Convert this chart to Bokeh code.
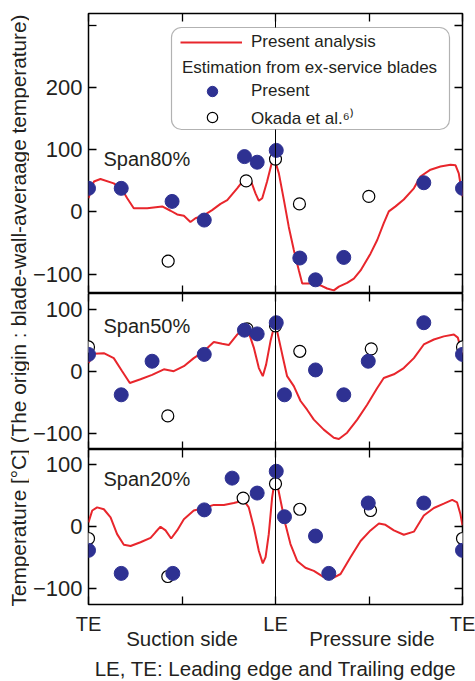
import math
from bokeh.plotting import figure
from bokeh.models import (Range1d, FixedTicker, LinearAxis, Span, Label,
                          BoxAnnotation, Legend, LegendItem)
from bokeh.layouts import row, column
from bokeh.core.properties import value
from bokeh.embed import file_html
from bokeh.resources import INLINE

FONT = "Liberation Sans"
RED = "#e8262c"
BLUE = "#2e3192"
INK = "#231f20"

# ---------------- data (x: -1 = TE suction side, 0 = LE, 1 = TE pressure side) ----------
# Span 80%
s80_line_x = [-1.000, -0.971, -0.936, -0.865, -0.825, -0.793, -0.758, -0.686, -0.606, -0.561,
              -0.526, -0.490, -0.455, -0.428, -0.381, -0.339, -0.294, -0.258, -0.205, -0.169,
              -0.134, -0.107, -0.089, -0.071, -0.045, -0.018, -0.005, 0.018, 0.045, 0.071,
              0.098, 0.125, 0.143, 0.187, 0.241, 0.276, 0.312, 0.339, 0.383, 0.419,
              0.455, 0.508, 0.544, 0.579, 0.606, 0.642, 0.686, 0.740, 0.775, 0.829,
              0.882, 0.936, 0.963, 0.980, 1.000]
s80_line_t = [22, 49, 53, 46, 38, 22, 6, 6, 9, 2,
              -4, -6, -16, -10, -5, 3, 13, 19, 38, 52,
              52, 30, 18, 22, 49, 81, 85, 62, 19, -24,
              -61, -94, -115, -115, -118, -123, -126, -120, -114, -107,
              -94, -67, -45, -18, 1, 9, 20, 38, 57, 68,
              73, 76, 75, 62, 25]
s80_present_x = [-1.0, -0.825, -0.553, -0.381, -0.166, -0.098, 0.004, 0.130, 0.214, 0.365, 0.793, 1.0]
s80_present_t = [38, 38, 17, -13, 89, 80, 99, -74, -109, -73, 47, 38]
s80_okada_x = [-0.574, -0.157, 0.0, 0.128, 0.499]
s80_okada_t = [-79, 50, 85, 13, 25]

# Span 50%
s50_line_x = [-1.000, -0.971, -0.918, -0.865, -0.820, -0.779, -0.722, -0.660, -0.597, -0.544,
              -0.490, -0.437, -0.383, -0.330, -0.285, -0.250, -0.205, -0.169, -0.143, -0.116,
              -0.089, -0.068, -0.050, -0.027, -0.009, 0.009, 0.036, 0.062, 0.098, 0.134,
              0.169, 0.205, 0.258, 0.312, 0.339, 0.383, 0.437, 0.490, 0.544, 0.579,
              0.633, 0.686, 0.740, 0.793, 0.847, 0.900, 0.954, 0.975, 1.000]
s50_line_t = [13, 28, 29, 21, 0, -19, -13, -6, 3, 0,
              8, 21, 32, 47, 44, 42, 59, 67, 62, 38,
              5, -8, 11, 48, 70, 64, 27, -8, -24, -48,
              -62, -78, -94, -107, -109, -99, -78, -54, -27, -11,
              -5, 5, 21, 43, 51, 56, 59, 54, 27]
s50_present_x = [-1.0, -0.825, -0.660, -0.381, -0.166, -0.098, 0.004, 0.048, 0.214, 0.365, 0.496, 0.793, 1.0]
s50_present_t = [27, -38, 16, 27, 66, 60, 78, -38, 2, -38, 16, 78, 27]
s50_okada_x = [-1.0, -0.576, -0.152, 0.0, 0.130, 0.512, 1.0]
s50_okada_t = [39, -72, 68, 73, 32, 36, 39]

# Span 20%
s20_line_x = [-1.000, -0.980, -0.954, -0.918, -0.882, -0.847, -0.811, -0.775, -0.722, -0.668,
              -0.642, -0.615, -0.588, -0.558, -0.526, -0.490, -0.437, -0.383, -0.330, -0.276,
              -0.223, -0.169, -0.143, -0.116, -0.089, -0.068, -0.053, -0.036, -0.018, -0.005,
              0.009, 0.027, 0.053, 0.080, 0.116, 0.160, 0.205, 0.258, 0.303, 0.348,
              0.401, 0.455, 0.508, 0.553, 0.588, 0.633, 0.686, 0.740, 0.793, 0.847,
              0.900, 0.945, 0.971, 0.989, 1.000]
s20_line_t = [7, 26, 31, 28, 15, -12, -29, -31, -25, -18,
              -9, 0, -6, -19, -6, 12, 26, 30, 35, 35,
              38, 42, 31, -1, -39, -59, -49, -12, 47, 72,
              69, 42, 4, -28, -55, -66, -71, -81, -83, -76,
              -49, -23, -6, 5, 3, -6, -13, -8, 18, 30,
              37, 43, 39, 20, 2]
s20_present_x = [-1.0, -0.825, -0.549, -0.381, -0.232, -0.098, 0.004, 0.048, 0.214, 0.285, 0.496, 0.793, 1.0]
s20_present_t = [-38, -75, -75, 27, 78, 54, 89, 16, -15, -75, 38, 38, -38]
s20_okada_x = [-1.0, -0.576, -0.173, 0.0, 0.130, 0.508, 1.0]
s20_okada_t = [-19, -80, 46, 69, 28, 26, -19]

x_label_ticks = [-1, 0, 1]
x_label_text = ["TE", "LE", "TE"]
x_minor_ticks = [-0.5, 0.5]
x_all_ticks = [-1, -0.5, 0, 0.5, 1]
side_pos = [-0.5, 0.516]
side_text = ["Suction side", "Pressure side"]
footnote = "LE, TE: Leading edge and Trailing edge"
span_names = ["Span80%", "Span50%", "Span20%"]
y_ticks_top = [-100, 0, 100, 200]
y_minor_top = [300]
y_all_top = [-100, 0, 100, 200, 300]
y_ticks_low = [-100, 0, 100]
y_label = "Temperature [\u00b0C] (The origin : blade-wall-averaage temperature)"
legend_labels = ["Present analysis", "Estimation from ex-service blades", "Present",
                 "Okada et al.\u2076\u207e"]


def style_axis(ax, size=None, standoff=8):
    ax.axis_line_color = None
    ax.major_tick_in = 8
    ax.major_tick_out = 0
    ax.minor_tick_in = 8
    ax.minor_tick_out = 0
    ax.major_tick_line_color = "black"
    ax.minor_tick_line_color = "black"
    ax.major_tick_line_width = 1.3
    ax.minor_tick_line_width = 1.3
    if size:
        ax.major_label_text_font = FONT
        ax.major_label_text_font_size = size
        ax.major_label_text_color = INK
        ax.major_label_standoff = standoff
    else:
        ax.major_label_standoff = 0


def panel(name, name_y, lx, ly, px, py, ox, oy, yr, yticks, yminor, yall,
          frame_h, top, bottom, xlabels):
    p = figure(frame_width=374, frame_height=frame_h,
               x_range=Range1d(-1, 1), y_range=Range1d(*yr),
               min_border_left=59, min_border_right=13, min_border_top=top,
               min_border_bottom=bottom, toolbar_location=None, output_backend="svg")
    p.grid.visible = False
    p.outline_line_color = "black"
    p.outline_line_width = 1.5

    p.yaxis.ticker = FixedTicker(ticks=yticks, minor_ticks=yminor)
    style_axis(p.yaxis[0], "22px", 6)
    if xlabels:
        p.xaxis.ticker = FixedTicker(ticks=x_label_ticks, minor_ticks=x_minor_ticks)
        p.xaxis.major_label_overrides = {t: l for t, l in zip(x_label_ticks, x_label_text)}
        style_axis(p.xaxis[0], "20px", 8)
    else:
        p.xaxis.ticker = FixedTicker(ticks=[], minor_ticks=x_all_ticks)
        style_axis(p.xaxis[0])

    ax_top = LinearAxis(ticker=FixedTicker(ticks=[], minor_ticks=x_all_ticks))
    style_axis(ax_top)
    p.add_layout(ax_top, "above")
    ax_right = LinearAxis(ticker=FixedTicker(ticks=[], minor_ticks=yall))
    style_axis(ax_right)
    p.add_layout(ax_right, "right")

    p.add_layout(Span(location=0, dimension="height", line_color="black", line_width=1))

    line_r = p.line(lx, ly, line_color=RED, line_width=2)
    ok_r = p.scatter(ox, oy, size=12, fill_color="white", line_color="black", line_width=1.2)
    pr_r = p.scatter(px, py, size=14, fill_color=BLUE, line_color=BLUE)

    p.add_layout(Label(x=15, y=name_y, x_units="screen", y_units="screen", text=name,
                       text_font=FONT, text_font_size="20px", text_color=INK,
                       text_baseline="middle"))
    return p, line_r, pr_r, ok_r


p1, l1, pr1, ok1 = panel(span_names[0], 135, s80_line_x, s80_line_t, s80_present_x, s80_present_t,
                         s80_okada_x, s80_okada_t, (-131, 319), y_ticks_top, y_minor_top,
                         y_all_top, 280, 13, 0, False)
p2, _, _, _ = panel(span_names[1], 124, s50_line_x, s50_line_t, s50_present_x, s50_present_t,
                    s50_okada_x, s50_okada_t, (-126, 125), y_ticks_low, [], y_ticks_low,
                    156, 0, 0, False)
p3, _, _, _ = panel(span_names[2], 126, s20_line_x, s20_line_t, s20_present_x, s20_present_t,
                    s20_okada_x, s20_okada_t, (-125, 124), y_ticks_low, [], y_ticks_low,
                    155, 0, 77, True)

# second row of x labels (sides) and the footnote as its axis title
side_ax = LinearAxis(ticker=FixedTicker(ticks=side_pos, minor_ticks=[]),
                     major_label_overrides={t: l for t, l in zip(side_pos, side_text)},
                     axis_line_color=None, major_tick_line_color=None,
                     minor_tick_line_color=None, major_tick_in=0, major_tick_out=0,
                     minor_tick_in=0, minor_tick_out=0,
                     major_label_text_font=FONT, major_label_text_font_size="20.5px",
                     major_label_text_color=INK, major_label_standoff=-11,
                     axis_label=footnote, axis_label_text_font=FONT,
                     axis_label_text_font_size="20.5px", axis_label_text_font_style="normal",
                     axis_label_text_color=INK, axis_label_standoff=4)
p3.add_layout(side_ax, "below")

# legend frame (rounded box)
p1.add_layout(BoxAnnotation(left=83, right=361, top=266, bottom=164,
                            left_units="screen", right_units="screen",
                            top_units="screen", bottom_units="screen",
                            fill_color="white", fill_alpha=1.0, line_color="black",
                            line_width=1.2, border_radius=10))

legA = Legend(items=[LegendItem(label=value(legend_labels[0]), renderers=[l1])],
              location=(92, 241), padding=0, margin=0, glyph_width=62, glyph_height=20,
              label_standoff=9, border_line_color=None, background_fill_alpha=0,
              label_text_font=FONT, label_text_font_size="17px", label_text_color=INK)
legB = Legend(items=[LegendItem(label=value(legend_labels[2]), renderers=[pr1]),
                     LegendItem(label=value(legend_labels[3]), renderers=[ok1])],
              title=legend_labels[1], title_text_font=FONT, title_text_font_size="17px",
              title_text_font_style="normal", title_text_color=INK, title_standoff=0,
              location=(94, 163), padding=0, margin=0, glyph_width=60, glyph_height=26,
              label_height=26, spacing=0, label_standoff=9, border_line_color=None,
              background_fill_alpha=0,
              label_text_font=FONT, label_text_font_size="17px", label_text_color=INK)
p1.add_layout(legA)
p1.add_layout(legB)

# y-axis title in its own narrow canvas
lab = figure(width=29, height=681, min_border=0, toolbar_location=None,
             output_backend="svg", x_range=Range1d(0, 1), y_range=Range1d(0, 1))
lab.axis.visible = False
lab.grid.visible = False
lab.outline_line_color = None
lab.add_layout(Label(x=18, y=371, x_units="screen", y_units="screen", text=y_label,
                     angle=math.pi / 2, text_font=FONT, text_font_size="20.8px",
                     text_color=INK, text_align="center", text_baseline="middle"))

layout = row(lab, column(p1, p2, p3, spacing=0), spacing=0)

with open("out.html", "w") as f:
    f.write(file_html(layout, INLINE))
